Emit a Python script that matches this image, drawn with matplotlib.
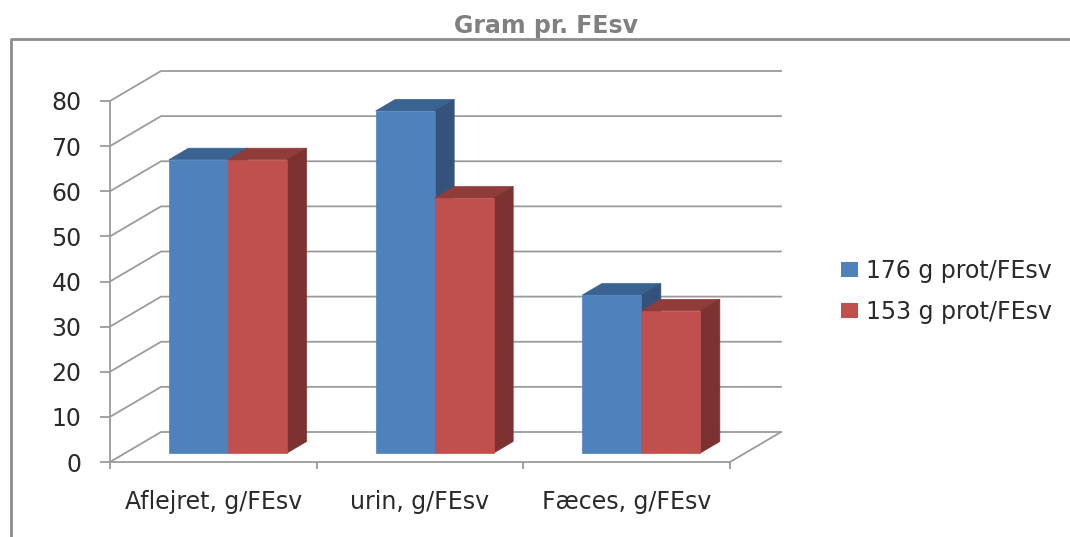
import matplotlib
matplotlib.use("Agg")
import matplotlib.pyplot as plt
from matplotlib.patches import Polygon, Rectangle
from matplotlib.lines import Line2D

categories = ["Aflejret, g/FEsv", "urin, g/FEsv", "Fæces, g/FEsv"]
series_names = ["176 g prot/FEsv", "153 g prot/FEsv"]
values_176 = [65, 75.8, 35]
values_153 = [65, 56.5, 31.5]
y_ticks = [0, 10, 20, 30, 40, 50, 60, 70, 80]

W, H = 1070, 537
GRAY = "#9b9b9b"
fig = plt.figure(figsize=(W / 100, H / 100), dpi=100, facecolor="white")
ax = fig.add_axes([110 / W, (H - 462) / H, 620 / W, 361 / H])
ax.set_xlim(0, 3)
ax.set_ylim(0, 80)
ax.patch.set_visible(False)

px_x = 3 / 620
px_y = 80 / 361
wall_dx, wall_dy = 51 * px_x, 30 * px_y
bar_dx, bar_dy = 19.5 * px_x, 11.5 * px_y
floor = 9 * px_y
bar_w = 59 * px_x
bar_start = 59 * px_x

# walls and floor
for v in y_ticks:
    ax.plot([0, wall_dx, 3 + wall_dx], [v, v + wall_dy, v + wall_dy],
            color=GRAY, lw=1.3, clip_on=False, zorder=1)
ax.plot([3, 3 + wall_dx], [0, wall_dy], color=GRAY, lw=1.3, clip_on=False, zorder=1)

series = [
    (values_176, "#4F81BD", "#3B6392", "#34527C"),
    (values_153, "#C0504D", "#8F3C3A", "#7B3230"),
]
z = 2
for i in range(len(categories)):
    for j, (vals, front, top, side) in enumerate(series):
        x0 = i + bar_start + j * bar_w
        x1 = x0 + bar_w
        y0 = floor
        y1 = floor + vals[i]
        ax.add_patch(Polygon([(x0, y1), (x1, y1), (x1 + bar_dx, y1 + bar_dy), (x0 + bar_dx, y1 + bar_dy)],
                             closed=True, fc=top, ec=top, lw=0.5, zorder=z, clip_on=False))
        ax.add_patch(Polygon([(x1, y0), (x1 + bar_dx, y0 + bar_dy), (x1 + bar_dx, y1 + bar_dy), (x1, y1)],
                             closed=True, fc=side, ec=side, lw=0.5, zorder=z, clip_on=False))
        ax.add_patch(Rectangle((x0, y0), bar_w, vals[i], fc=front, ec=front, lw=0.5, zorder=z + 0.5, clip_on=False))
        z += 1

for s in ["top", "right"]:
    ax.spines[s].set_visible(False)
for s in ["left", "bottom"]:
    ax.spines[s].set_color(GRAY)
    ax.spines[s].set_linewidth(1.3)

ax.set_yticks(y_ticks)
ax.tick_params(axis="y", length=7.5, width=1.3, color=GRAY, pad=13, labelsize=17, labelcolor="#2a2a2a")
ax.set_xticks([0, 1, 2, 3])
ax.set_xticklabels([])
ax.tick_params(axis="x", length=5, width=1.3, color=GRAY)
ax.set_xticks([0.5, 1.5, 2.5], labels=categories, minor=True)
ax.tick_params(axis="x", which="minor", length=0, pad=20, labelsize=17, labelcolor="#2a2a2a")

# outer frame
fig.add_artist(Line2D([11 / W, 11 / W, 1], [0, (H - 39) / H, (H - 39) / H],
                      color="#8c8c8c", lw=2.0, transform=fig.transFigure))

fig.text(546.5 / W, (H - 26) / H, "Gram pr. FEsv", ha="center", va="center",
         fontsize=17, fontweight="bold", color="#808080", family="DejaVu Sans")

handles = [Rectangle((0, 0), 1, 1, fc=s[1], ec="none") for s in series]
fig.legend(handles, series_names, loc="upper left",
           bbox_to_anchor=(834 / W, (H - 252) / H), bbox_transform=fig.transFigure,
           frameon=False, prop={"family": "DejaVu Sans", "size": 17},
           handlelength=0.72, handleheight=0.6, handletextpad=0.34, labelspacing=0.72,
           labelcolor="#2a2a2a", borderpad=0.3, borderaxespad=0)

fig.savefig("out.png", dpi=100, facecolor="white")
